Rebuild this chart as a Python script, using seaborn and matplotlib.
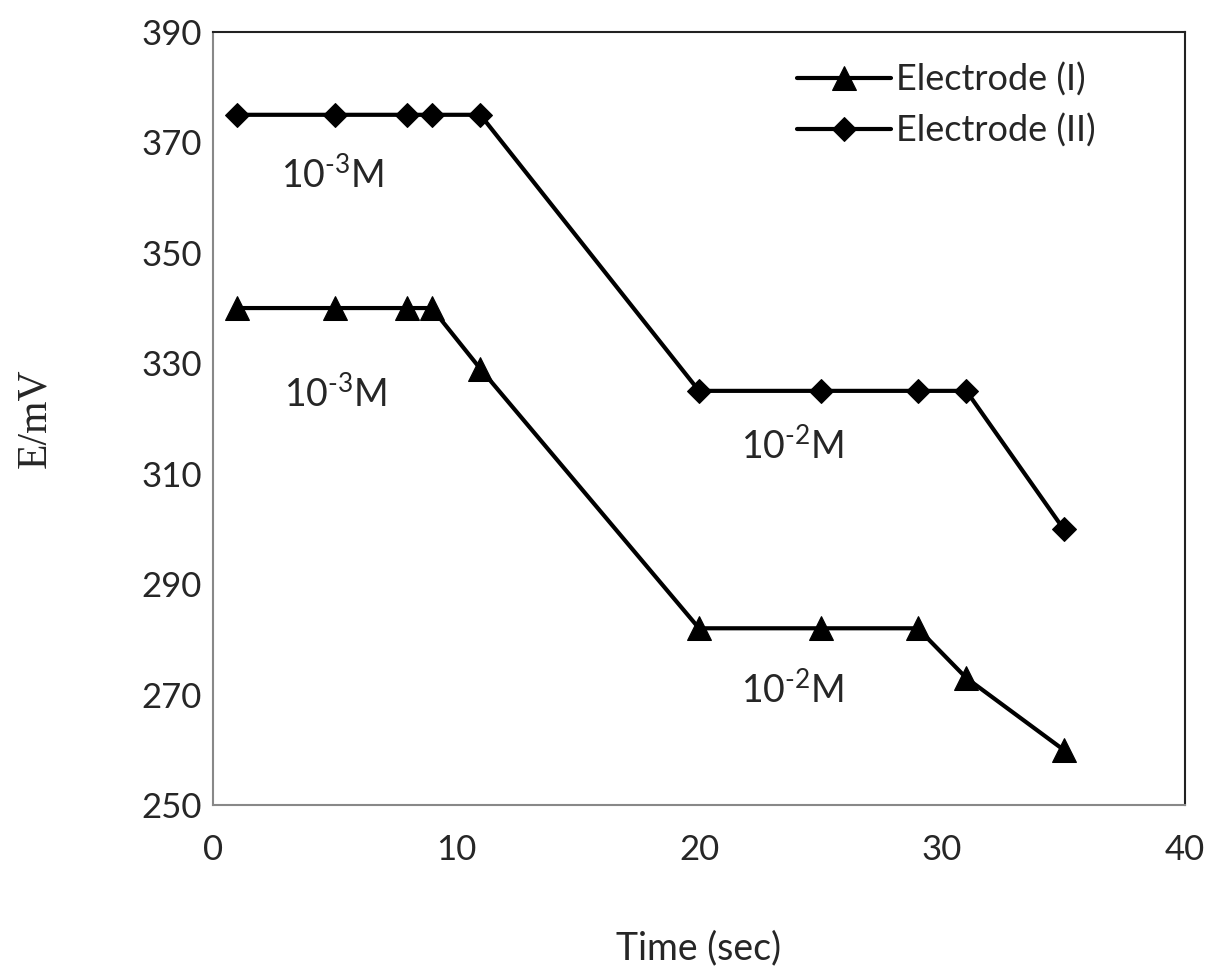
import matplotlib
matplotlib.use("Agg")
import matplotlib.pyplot as plt
import seaborn as sns
import pandas as pd

time_e1 = [1, 5, 8, 9, 11, 20, 25, 29, 31, 35]
e_e1 = [340, 340, 340, 340, 329, 282, 282, 282, 273, 260]
time_e2 = [1, 5, 8, 9, 11, 20, 25, 29, 31, 35]
e_e2 = [375, 375, 375, 375, 375, 325, 325, 325, 325, 300]
labels = ["Electrode (I)", "Electrode (II)"]
x_ticks = [0, 10, 20, 30, 40]
y_ticks = [250, 270, 290, 310, 330, 350, 370, 390]
annotations = [
    (4.9, 361.7, "3"),
    (5.05, 321.9, "3"),
    (23.87, 312.5, "2"),
    (23.83, 268.4, "2"),
]

sns.set_style("white")
plt.rcParams['font.family'] = ['Lato', 'DejaVu Sans']
plt.rcParams['mathtext.fontset'] = 'custom'
plt.rcParams['mathtext.rm'] = 'Lato'

fig = plt.figure(figsize=(12.05, 9.75), dpi=100)
ax = fig.add_axes([0.1768, 0.1744, 0.8066, 0.7928])

df1 = pd.DataFrame({"t": time_e1, "E": e_e1})
df2 = pd.DataFrame({"t": time_e2, "E": e_e2})
sns.lineplot(data=df1, x="t", y="E", ax=ax, color="black", lw=3, marker="^",
             markersize=17, markeredgecolor="black", label=labels[0])
sns.lineplot(data=df2, x="t", y="E", ax=ax, color="black", lw=3, marker="D",
             markersize=12.5, markeredgecolor="black", label=labels[1])

ax.set_xlim(0, 40)
ax.set_ylim(250, 390)
ax.set_xticks(x_ticks)
ax.set_yticks(y_ticks)
ax.tick_params(axis="both", direction="in", length=7, width=1, color="#888888",
               labelsize=25)
ax.tick_params(axis="y", pad=8)
ax.tick_params(axis="x", pad=21)
for s in ["left", "bottom"]:
    ax.spines[s].set_color("#888888")
    ax.spines[s].set_linewidth(1.5)
for s in ["top", "right"]:
    ax.spines[s].set_color("#222222")
    ax.spines[s].set_linewidth(1.5)

ax.set_xlabel("Time (sec)", fontsize=27)
ax.xaxis.set_label_coords(0.5, -0.162)
ax.set_ylabel("E/mV", fontsize=30, family=["Liberation Serif"])
ax.yaxis.set_label_coords(-0.163, 0.5)

for x, y, p in annotations:
    ax.text(x, y, "10$^{\\mathregular{\u2010" + p + "}}$M", fontsize=27,
            ha="center", va="baseline")

leg = ax.legend(loc="upper left", bbox_to_anchor=(0.601, 0.961), frameon=False,
                fontsize=26, handlelength=2.6, handletextpad=0.15, labelspacing=0.48,
                borderaxespad=0, borderpad=0)

fig.savefig("out.png", dpi=100)
